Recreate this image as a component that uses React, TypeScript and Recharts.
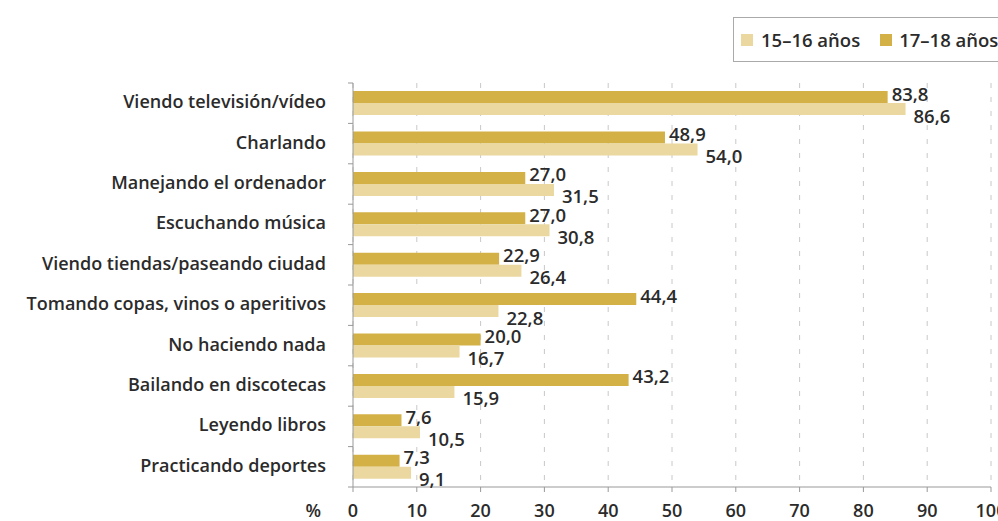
import React from "react";
import {
  BarChart,
  Bar,
  XAxis,
  YAxis,
  CartesianGrid,
  LabelList,
} from "recharts";

const categories = [
  "Viendo televisión/vídeo",
  "Charlando",
  "Manejando el ordenador",
  "Escuchando música",
  "Viendo tiendas/paseando ciudad",
  "Tomando copas, vinos o aperitivos",
  "No haciendo nada",
  "Bailando en discotecas",
  "Leyendo libros",
  "Practicando deportes",
];
const age1718 = [83.8, 48.9, 27.0, 27.0, 22.9, 44.4, 20.0, 43.2, 7.6, 7.3];
const age1516 = [86.6, 54.0, 31.5, 30.8, 26.4, 22.8, 16.7, 15.9, 10.5, 9.1];
const xTicks = [0, 10, 20, 30, 40, 50, 60, 70, 80, 90, 100];
const seriesNames = ["15–16 años", "17–18 años"];

const DARK = "#d3b146";
const LIGHT = "#ead8a0";
const TEXT = "#2b2b2b";
const FONT = "'Open Sans', sans-serif";

const data = categories.map((name, i) => ({
  name,
  a1718: age1718[i],
  a1516: age1516[i],
}));

const fmt = (v: number) => v.toFixed(1).replace(".", ",");

// band height used for the little boundary ticks on the category axis
const BAND = 40.4;

const CatTick = (props: any) => {
  const { x, y, payload, index } = props;
  const axisX = x + 8;
  return (
    <g>
      <line x1={axisX - 5} x2={axisX} y1={y - BAND / 2} y2={y - BAND / 2} stroke="#999" />
      {index === categories.length - 1 && (
        <line x1={axisX - 5} x2={axisX} y1={y + BAND / 2} y2={y + BAND / 2} stroke="#999" />
      )}
      <text
        x={axisX - 27}
        y={y - 2}
        textAnchor="end"
        dominantBaseline="central"
        fill={TEXT}
        fontSize={18}
        fontWeight={600}
        fontFamily={FONT}
      >
        {payload.value}
      </text>
    </g>
  );
};

const makeValueLabel = (dx: number, dy: number) => (props: any) => {
  const { x, y, width, height, value } = props;
  return (
    <text
      x={x + width + dx}
      y={y + height / 2 + dy}
      dominantBaseline="central"
      fill={TEXT}
      fontSize={18.5}
      fontWeight={600}
      fontFamily={FONT}
    >
      {fmt(value)}
    </text>
  );
};

const LegendBox = () => (
  <div
    style={{
      position: "absolute",
      left: 733,
      top: 17,
      border: "1px solid #aaa",
      height: 45,
      width: 300,
      boxSizing: "border-box",
      display: "flex",
      alignItems: "center",
      paddingLeft: 7,
      fontFamily: FONT,
      fontWeight: 600,
      fontSize: 18.5,
      color: TEXT,
      background: "#fff",
    }}
  >
    <span style={{ width: 12, height: 12, background: LIGHT, display: "inline-block", marginRight: 8 }} />
    <span style={{ marginRight: 20 }}>{seriesNames[0]}</span>
    <span style={{ width: 12, height: 12, background: DARK, display: "inline-block", marginRight: 7 }} />
    <span>{seriesNames[1]}</span>
  </div>
);

export default function App() {
  return (
    <div
      style={{
        position: "fixed",
        left: 0,
        top: 0,
        width: 998,
        height: 521,
        overflow: "hidden",
        background: "#fff",
      }}
    >
      <BarChart
        width={1040}
        height={521}
        data={data}
        layout="vertical"
        margin={{ top: 83, right: 49, bottom: 4, left: 0 }}
        barCategoryGap="20%"
        barGap={0}
      >
        <CartesianGrid
          horizontal={false}
          stroke="#c8c8c8"
          strokeDasharray="5 9"
        />
        <XAxis
          type="number"
          domain={[0, 100]}
          ticks={xTicks}
          interval={0}
          height={30}
          stroke="#999"
          tickSize={5}
          tickMargin={12}
          tick={{ fill: TEXT, fontSize: 18, fontWeight: 600, fontFamily: FONT }}
          label={{
            value: "%",
            position: "left",
            offset: 32,
            dy: 9,
            fill: TEXT,
            fontSize: 18,
            fontWeight: 600,
            fontFamily: FONT,
          }}
        />
        <YAxis
          type="category"
          dataKey="name"
          width={353}
          stroke="#999"
          tickLine={false}
          interval={0}
          tick={<CatTick />}
        />
        <Bar dataKey="a1718" fill={DARK} isAnimationActive={false}>
          <LabelList dataKey="a1718" content={makeValueLabel(4, -4)} />
        </Bar>
        <Bar dataKey="a1516" fill={LIGHT} isAnimationActive={false}>
          <LabelList dataKey="a1516" content={makeValueLabel(8, 6)} />
        </Bar>
      </BarChart>
      <LegendBox />
    </div>
  );
}
